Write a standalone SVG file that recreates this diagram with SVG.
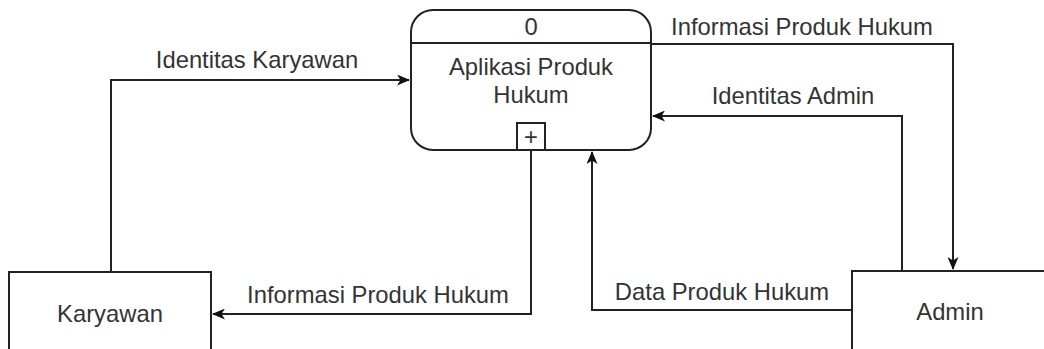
<svg xmlns="http://www.w3.org/2000/svg" width="1044" height="349" viewBox="0 0 1044 349">
<style>
.box{fill:#fff;stroke:#222;stroke-width:2}
.ln{fill:none;stroke:#222;stroke-width:2}
.t{font-family:"Liberation Sans",Arial,sans-serif;font-size:23.8px;fill:#333;text-anchor:middle}
</style>
<defs>
<marker id="ah" markerWidth="13" markerHeight="11" refX="12" refY="5.5" orient="auto" markerUnits="userSpaceOnUse">
<path d="M0,0 L13,5.5 L0,11 L3.5,5.5 Z" fill="#111"/>
</marker>
</defs>
<rect width="1044" height="349" fill="#fff"/>
<g id="connectors">
<polyline class="ln" points="111,272 111,80 409,80" marker-end="url(#ah)"/>
<polyline class="ln" points="651,44 953,44 953,269" marker-end="url(#ah)"/>
<polyline class="ln" points="902,271 902,116 653,116" marker-end="url(#ah)"/>
<polyline class="ln" points="531,150 531,314 213,314" marker-end="url(#ah)"/>
<polyline class="ln" points="852,310 592,310 592,152" marker-end="url(#ah)"/>
<text class="t" x="257" y="68">Identitas Karyawan</text>
<text class="t" x="802" y="35">Informasi Produk Hukum</text>
<text class="t" x="793" y="104">Identitas Admin</text>
<text class="t" x="378" y="303">Informasi Produk Hukum</text>
<text class="t" x="722" y="300">Data Produk Hukum</text>
</g>
<g id="process">
<rect class="box" x="411" y="10" width="240" height="140" rx="22" ry="22"/>
<line class="ln" x1="411" y1="43" x2="651" y2="43"/>
<text class="t" x="531" y="35">0</text>
<text class="t" x="531" y="75">Aplikasi Produk</text>
<text class="t" x="531" y="103">Hukum</text>
<rect class="box" x="517" y="123" width="28" height="27"/>
<text class="t" x="531" y="145">+</text>
</g>
<g id="karyawan">
<rect class="box" x="9" y="272" width="202" height="100"/>
<text class="t" x="110" y="322">Karyawan</text>
</g>
<g id="admin">
<rect class="box" x="852" y="271" width="200" height="100"/>
<text class="t" x="950" y="320">Admin</text>
</g>
</svg>
